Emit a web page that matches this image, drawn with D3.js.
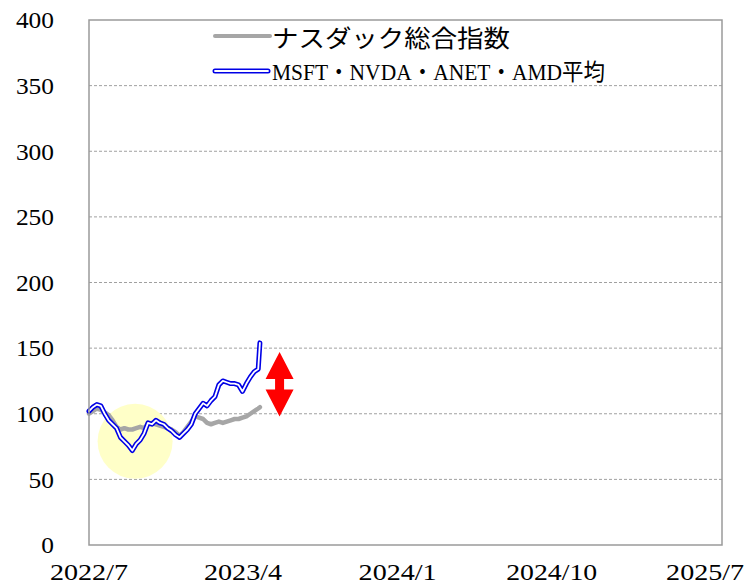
<!DOCTYPE html>
<html>
<head>
<meta charset="utf-8">
<script src="https://cdn.jsdelivr.net/npm/d3@7"></script>
<style>
  body { margin: 0; background: #fff; }
  svg text { fill: #000; }
</style>
</head>
<body>
<div id="chart"></div>
<script>
// data (weekly)
var dates = ["2022-07-01","2022-07-08","2022-07-15","2022-07-22","2022-07-29","2022-08-05","2022-08-12","2022-08-19",
  "2022-08-26","2022-09-02","2022-09-09","2022-09-16","2022-09-23","2022-09-30","2022-10-07","2022-10-14",
  "2022-10-21","2022-10-28","2022-11-04","2022-11-11","2022-11-18","2022-11-25","2022-12-02","2022-12-09",
  "2022-12-16","2022-12-23","2022-12-30","2023-01-06","2023-01-13","2023-01-20","2023-01-27","2023-02-03",
  "2023-02-10","2023-02-17","2023-02-24","2023-03-03","2023-03-10","2023-03-17","2023-03-24","2023-03-31",
  "2023-04-07","2023-04-14","2023-04-21","2023-04-28","2023-05-01"];
var nasdaq = [100,102,104,103,101,99,95,90,88,89,88,88,89,90,89,92,93,92,91,90,89,88,86,83,
  86,90,94,98,97,96,93,92,93,94,93,94,95,96,96,97,98,100,102,104,105];
var avg4 = [102,105,107,106,100,95,92,89,82,79,76,72,77,80,85,93,92,95,93,92,89,87,84,82,
  85,88,92,100,104,108,106,110,113,122,125,124,123,123,122,117,123,128,132,134,154];
var seriesNames = ["ナスダック総合指数", "MSFT・NVDA・ANET・AMD平均"];
var yTicks = [0, 50, 100, 150, 200, 250, 300, 350, 400];
var xTicks = ["2022-07-01", "2023-04-01", "2024-01-01", "2024-10-01", "2025-07-01"];
var xDomain = ["2022-07-01", "2025-07-31"];
// highlight circle and the gap arrow
var circleAt = { date: "2022-09-21", value: 79 };
var arrowAt = { date: "2023-06-05", low: 98, high: 147 };

var W = 744, H = 585;
var plotL = 89, plotR = 722, plotT = 20, plotB = 545;
var parse = d3.utcParse("%Y-%m-%d");

var svg = d3.select("#chart").append("svg")
    .attr("width", W)
    .attr("height", H);

var x = d3.scaleUtc().domain(xDomain.map(parse)).range([plotL, plotR]);
var y = d3.scaleLinear().domain([0, 400]).range([plotB, plotT]);

// grid lines
svg.append("g")
    .selectAll("line")
    .data(yTicks.filter(d => d > 0 && d < 400))
    .enter().append("line")
    .attr("x1", plotL).attr("x2", plotR)
    .attr("y1", d => y(d)).attr("y2", d => y(d))
    .attr("stroke", "#a0a0a0")
    .attr("stroke-width", 1)
    .attr("stroke-dasharray", "3,2");

// y labels
svg.append("g")
    .selectAll("text")
    .data(yTicks)
    .enter().append("text")
    .attr("x", 54)
    .attr("y", d => y(d))
    .attr("dy", "0.36em")
    .attr("text-anchor", "end")
    .attr("textLength", d => String(d).length * 12.7)
    .attr("lengthAdjust", "spacingAndGlyphs")
    .style("font", "23px 'Liberation Serif', serif")
    .text(d => d);

// x labels
var fmt = d3.utcFormat("%Y/%-m");
svg.append("g")
    .selectAll("text")
    .data(xTicks.map(parse))
    .enter().append("text")
    .attr("x", d => x(d))
    .attr("y", 580)
    .attr("text-anchor", "middle")
    .attr("textLength", d => fmt(d).length * 13)
    .attr("lengthAdjust", "spacingAndGlyphs")
    .style("font", "23px 'Liberation Serif', serif")
    .text(d => fmt(d));

// yellow highlight
svg.append("circle")
    .attr("cx", x(parse(circleAt.date)))
    .attr("cy", y(circleAt.value))
    .attr("r", 37.5)
    .attr("fill", "#ffffc8");

var pts = function (vals) {
    return vals.map((v, i) => [parse(dates[i]), v]);
};
var line = d3.line().x(d => x(d[0])).y(d => y(d[1]));

var content = svg.append("g")
    .attr("fill", "none")
    .attr("stroke-linejoin", "round")
    .attr("stroke-linecap", "round");

content.append("path")
    .attr("d", line(pts(nasdaq)))
    .attr("stroke", "#a6a6a6")
    .attr("stroke-width", 4.5);

content.append("path")
    .attr("d", line(pts(avg4)))
    .attr("stroke", "#0000e6")
    .attr("stroke-width", 5);
content.append("path")
    .attr("d", line(pts(avg4)))
    .attr("stroke", "#fff")
    .attr("stroke-width", 1.8);

// red double arrow
var ax = x(parse(arrowAt.date));
var yTop = y(arrowAt.high), yBot = y(arrowAt.low);
var hw = 14, sw = 4.5, headH = 27;
var arrow = d3.path();
arrow.moveTo(ax, yTop);
arrow.lineTo(ax + hw, yTop + headH);
arrow.lineTo(ax + sw, yTop + headH);
arrow.lineTo(ax + sw, yBot - headH);
arrow.lineTo(ax + hw, yBot - headH);
arrow.lineTo(ax, yBot);
arrow.lineTo(ax - hw, yBot - headH);
arrow.lineTo(ax - sw, yBot - headH);
arrow.lineTo(ax - sw, yTop + headH);
arrow.lineTo(ax - hw, yTop + headH);
arrow.closePath();
svg.append("path")
    .attr("d", arrow.toString())
    .attr("fill", "#ff0000");

// plot border
svg.append("rect")
    .attr("x", plotL).attr("y", plotT)
    .attr("width", plotR - plotL).attr("height", plotB - plotT)
    .attr("fill", "none")
    .attr("stroke", "#9a9a9a")
    .attr("stroke-width", 1.5);

// legend
var legend = svg.append("g");
legend.append("line")
    .attr("x1", 215).attr("x2", 270).attr("y1", 36).attr("y2", 36)
    .attr("stroke", "#a6a6a6").attr("stroke-width", 4).attr("stroke-linecap", "round");
legend.append("line")
    .attr("x1", 215).attr("x2", 268).attr("y1", 71).attr("y2", 71)
    .attr("stroke", "#0000e6").attr("stroke-width", 5).attr("stroke-linecap", "round");
legend.append("line")
    .attr("x1", 215).attr("x2", 268).attr("y1", 71).attr("y2", 71)
    .attr("stroke", "#fff").attr("stroke-width", 1.8).attr("stroke-linecap", "round");
legend.append("text")
    .attr("x", 272).attr("y", 47)
    .attr("textLength", 238).attr("lengthAdjust", "spacingAndGlyphs")
    .style("font", "24px 'Noto Sans CJK JP', sans-serif")
    .text(seriesNames[0]);
legend.append("text")
    .attr("x", 272).attr("y", 80)
    .attr("textLength", 333).attr("lengthAdjust", "spacingAndGlyphs")
    .style("font", "23px 'Liberation Serif', 'Noto Sans CJK JP', serif")
    .text(seriesNames[1]);
</script>
</body>
</html>
